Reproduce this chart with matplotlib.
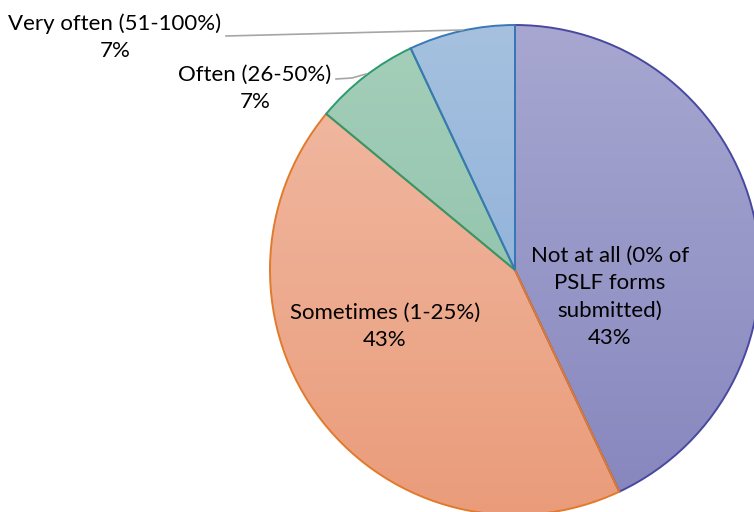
import matplotlib
matplotlib.use("Agg")
import matplotlib.pyplot as plt
import numpy as np
from matplotlib.colors import to_rgb

categories = ["Not at all (0% of\nPSLF forms\nsubmitted)", "Sometimes (1-25%)", "Often (26-50%)", "Very often (51-100%)"]
values = [43, 43, 7, 7]
pct_labels = ["43%", "43%", "7%", "7%"]
top_colors = ["#a7a7d1", "#f1bca7", "#a5cfba", "#a5c1df"]
bottom_colors = ["#8686be", "#ea9c7a", "#86bca4", "#84a7d6"]
edge_colors = ["#4848a0", "#e27a2c", "#2b9a70", "#3a78b6"]

plt.rcParams['font.family'] = ['Lato', 'DejaVu Sans']

W, H = 754, 512
fig = plt.figure(figsize=(W / 100, H / 100), dpi=100)
ax = fig.add_axes([0, 0, 1, 1])

cx, cy, R = 515, 270, 245  # pixel geometry of the pie
def px(x, y):
    return ((x - cx) / R, (cy - y) / R)

wedges, _ = ax.pie(values, startangle=90, counterclock=False, radius=1,
                   wedgeprops=dict(linewidth=1.4))
for w, tc, bc, ec in zip(wedges, top_colors, bottom_colors, edge_colors):
    w.set_facecolor("none")
    w.set_edgecolor(ec)
    w.set_zorder(3)
    t = np.linspace(0, 1, 256)[:, None]
    c0 = np.array(to_rgb(tc)); c1 = np.array(to_rgb(bc))
    img = (c0[None, None, :] * (1 - t[..., None]) + c1[None, None, :] * t[..., None])
    im = ax.imshow(img, extent=[-1, 1, -1, 1], origin="upper", aspect="auto", zorder=2,
                   interpolation="bilinear")
    im.set_clip_path(w)

ax.set_xlim(-cx / R, (W - cx) / R)
ax.set_ylim(-(H - cy) / R, cy / R)
ax.set_aspect("equal")
ax.axis("off")

fs = 16
ls = 1.45
# inside labels
x, y = px(610, 297)
ax.text(x, y, categories[0] + "\n" + pct_labels[0], ha="center", va="center", fontsize=fs,
        linespacing=ls, zorder=5)
x, y = px(385, 326)
ax.text(x, y, categories[1] + "\n" + pct_labels[1], ha="center", va="center", fontsize=fs,
        linespacing=ls, zorder=5)
# outside labels
x, y = px(255, 88)
ax.text(x, y, categories[2] + "\n" + pct_labels[2], ha="center", va="center", fontsize=fs,
        linespacing=ls, zorder=5)
x, y = px(115, 37)
ax.text(x, y, categories[3] + "\n" + pct_labels[3], ha="center", va="center", fontsize=fs,
        linespacing=ls, zorder=5)

# leader lines
x0, y0 = px(226, 36); x1, y1 = px(462, 30)
ax.plot([x0, x1], [y0, y1], color="#a6a6a6", lw=1.2, zorder=4)
x0, y0 = px(336, 79); xm, ym = px(352, 78); x1, y1 = px(366, 74)
ax.plot([x0, xm, x1], [y0, ym, y1], color="#a6a6a6", lw=1.2, zorder=4)

fig.savefig("out.png", dpi=100)
